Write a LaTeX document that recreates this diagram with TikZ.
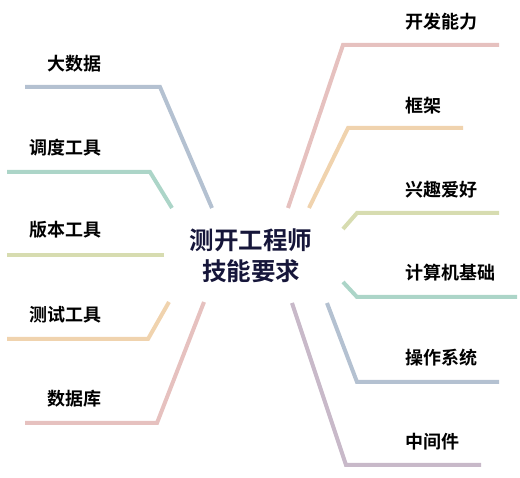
\documentclass[tikz,border=0pt]{standalone}
\usepackage{fontspec}
\newfontfamily\cjk{Noto Sans CJK SC}[BoldFont={Noto Sans CJK SC Bold}]
\usepackage{tikz}

\definecolor{blueg}{HTML}{B4C1D1}
\definecolor{teal}{HTML}{ACD5C8}
\definecolor{olive}{HTML}{D7DCB0}
\definecolor{peach}{HTML}{F0D3AE}
\definecolor{rose}{HTML}{E6C1BF}
\definecolor{mauve}{HTML}{C8B9C9}
\definecolor{navy}{HTML}{16163A}

\begin{document}
\begin{tikzpicture}[x=1pt, y=-1pt, every node/.style={font=\cjk\bfseries\fontsize{18}{21}\selectfont},
	branch/.style={line width=4pt}]
	\useasboundingbox (0,0) rectangle (520,478);
	\node[navy, align=center, font=\cjk\bfseries\fontsize{24.5}{31}\selectfont] (center) at (251,256) {测开工程师\\技能要求};
	% left side
	\foreach \n/\txt/\y in {l1/大数据/64, l2/调度工具/148, l3/版本工具/230, l4/测试工具/315, l5/数据库/399}
		\node[anchor=east, inner sep=0pt] (\n) at (102,\y) {\txt};
	\foreach \n/\ax/\ay/\bx/\by/\cx/\cy/\col in {l1/212/208/160/87/25/87/blueg, l2/172/208/150/172/7/172/teal,
		l3/164/255/164/255/7/255/olive, l4/169/302/148/339/7/339/peach, l5/204/302/157/423/25/423/rose} {
		\coordinate (\n-a) at (\ax,\ay);
		\coordinate (\n-b) at (\bx,\by);
		\coordinate (\n-c) at (\cx,\cy);
		\draw[branch, \col] (\n-a) -- (\n-b) -- (\n-c);
	}
	% right side
	\foreach \n/\txt/\y in {r1/开发能力/22, r2/框架/106, r3/兴趣爱好/190, r4/计算机基础/273, r5/操作系统/358, r6/中间件/442}
		\node[anchor=west, inner sep=0pt] (\n) at (405,\y) {\txt};
	\foreach \n/\ax/\ay/\bx/\by/\cx/\cy/\col in {r1/288/208/343/45/499/45/rose, r2/309/208/348/128/463/128/peach,
		r3/343/229/357/213/499/213/olive, r4/343/282/357/297/517/297/teal, r5/327/303/357/382/499/382/blueg,
		r6/292/303/346/465/481/465/mauve} {
		\coordinate (\n-a) at (\ax,\ay);
		\coordinate (\n-b) at (\bx,\by);
		\coordinate (\n-c) at (\cx,\cy);
		\draw[branch, \col] (\n-a) -- (\n-b) -- (\n-c);
	}
\end{tikzpicture}
\end{document}
